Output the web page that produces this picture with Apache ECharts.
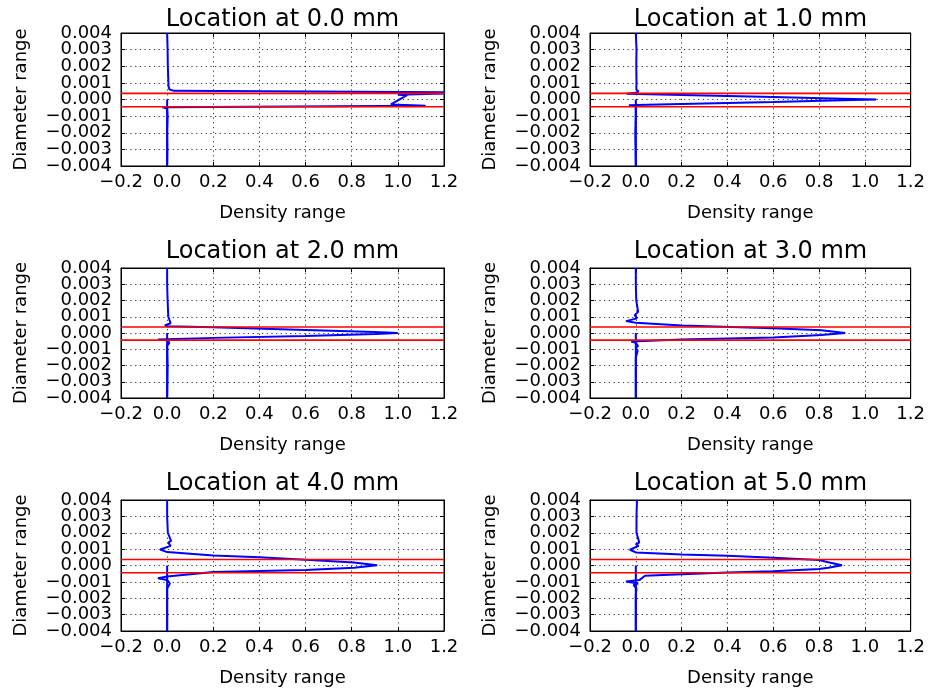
<!DOCTYPE html>
<html><head><meta charset="utf-8">
<script src="https://cdn.jsdelivr.net/npm/echarts@6/dist/echarts.min.js"></script>
<style>html,body{margin:0;padding:0;background:#fff}#c{width:928px;height:695px}</style>
</head><body><div id="c"></div><script>
// ---- data ----
const panelTitles = ['Location at 0.0 mm','Location at 1.0 mm','Location at 2.0 mm','Location at 3.0 mm','Location at 4.0 mm','Location at 5.0 mm'];
const xTickRange = [-0.2, 1.2], xTickStep = 0.2;
const yTickRange = [-0.004, 0.004], yTickStep = 0.001;
const yLabelsEven = [-0.004, -0.002, 0.0, 0.002, 0.004];
const yLabelsOdd = [-0.003, -0.001, 0.001, 0.003];
const xAxisName = 'Density range';
const yAxisName = 'Diameter range';
const boundaryUpper = 0.00037;
const boundaryLower = -0.00044;

const dens0 = [0.0, 0.002, 0.003, 0.005, 0.006, 0.01, 0.03, 1.40, 1.00, 1.04, 0.97, 1.12, -0.02, 0.0, 0.002, 0.0, 0.001, 0.0];
const diam0 = [0.004, 0.003, 0.002, 0.0012, 0.0008, 0.0006, 0.00052, 0.00042, 0.00029, 0.00026, -0.00030, -0.00038, -0.00047, -0.00055, -0.001, -0.002, -0.003, -0.004];

const dens1 = [0.0, 0.003, 0.002, 0.003, 0.002, 0.012, 0.0, -0.04, 0.3, 0.6, 0.9, 1.05, 0.9, 0.6, 0.3, 0.05, -0.03, 0.0, 0.0, -0.002, 0.0];
const diam1 = [0.004, 0.003, 0.002, 0.001, 0.0006, 0.00048, 0.0004, 0.00035, 0.00024, 0.000145, 0.000048, 0.0, -0.000049, -0.000146, -0.00024, -0.00032, -0.00035, -0.0004, -0.001, -0.002, -0.004];

const dens2 = [0.0, 0.0, 0.002, 0.005, 0.015, -0.01, 0.0, 0.2, 0.6, 0.9, 1.0, 0.9, 0.6, 0.2, -0.04, 0.0, 0.01, 0.0, 0.002, 0.0];
const diam2 = [0.004, 0.003, 0.002, 0.001, 0.0006, 0.00047, 0.00042, 0.00035, 0.00018, 0.00006, 0.0, -0.00006, -0.00018, -0.0003, -0.0004, -0.00045, -0.0006, -0.0008, -0.002, -0.004];

const dens3 = [0.0, 0.0, 0.002, 0.01, -0.005, 0.005, -0.043, 0.0, 0.2, 0.6, 0.81, 0.914, 0.81, 0.6, 0.2, -0.02, 0.0, 0.01, 0.0, 0.008, 0.0, 0.0];
const diam3 = [0.004, 0.003, 0.002, 0.0013, 0.0011, 0.0009, 0.00073, 0.00063, 0.00046, 0.00029, 0.00017, 0.0, -0.00013, -0.00027, -0.0004, -0.00052, -0.0006, -0.0008, -0.0009, -0.0011, -0.0015, -0.004];

const dens4 = [0.0, 0.0, 0.003, 0.017, 0.005, 0.015, -0.03, 0.0, 0.2, 0.4, 0.6, 0.81, 0.91, 0.81, 0.6, 0.4, 0.2, 0.0, -0.04, 0.0, 0.012, 0.0, 0.0];
const diam4 = [0.004, 0.003, 0.002, 0.0015, 0.0014, 0.0012, 0.00098, 0.00082, 0.00061, 0.00051, 0.00035, 0.00018, 0.00002, -0.00014, -0.00027, -0.00033, -0.0004, -0.00067, -0.00078, -0.00088, -0.0011, -0.0014, -0.004];

const dens5 = [0.005, 0.003, 0.003, 0.015, 0.0, 0.012, -0.026, 0.0, 0.2, 0.4, 0.6, 0.8, 0.84, 0.9, 0.84, 0.8, 0.6, 0.4, 0.2, 0.04, 0.017, -0.043, 0.01, -0.01, 0.003, 0.0, 0.0];
const diam5 = [0.004, 0.003, 0.002, 0.0014, 0.0013, 0.0012, 0.00096, 0.0008, 0.00067, 0.00059, 0.00047, 0.00033, 0.0002, 0.00002, -0.00014, -0.00022, -0.00035, -0.00043, -0.00053, -0.00063, -0.00088, -0.00098, -0.0011, -0.0012, -0.0014, -0.0018, -0.004];

const stubDens = [0.0, 0.0];
const stubDiam = [0.0, -0.004];

const densAll = [dens0, dens1, dens2, dens3, dens4, dens5];
const diamAll = [diam0, diam1, diam2, diam3, diam4, diam5];

// ---- layout ----
const gridLefts = [121, 590], gridWidths = [323, 321];
const gridTops = [33, 268, 500], gridHeights = [133, 130, 131];
const titleY = [20, 252, 484];
const FONT = 'DejaVu Sans';

function fmtX(v){ const s = Math.abs(v).toFixed(1); return (v < -1e-9 ? '\u2212' : '') + s; }
function fmtY(v){ const s = Math.abs(v).toFixed(3); return (v < -1e-9 ? '\u2212' : '') + s; }

const grids = [], xAxes = [], yAxes = [], series = [], graphics = [];
const axLine = { show: true, onZero: false, lineStyle: { color: '#000', width: 1 } };
const axTick = { show: true, inside: true, length: 4, lineStyle: { color: '#000' } };
const gridLine = { show: true, lineStyle: { color: '#000', type: [1.2, 3.5], width: 0.8 } };
for (let i = 0; i < 6; i++) {
  const col = i % 2, row = Math.floor(i / 2);
  grids.push({ left: gridLefts[col], top: gridTops[row], width: gridWidths[col], height: gridHeights[row],
    show: true, borderColor: '#000', borderWidth: 1, backgroundColor: '#fff', containLabel: false });
  const xRange = { gridIndex: i, type: 'value', min: xTickRange[0], max: xTickRange[1], interval: xTickStep };
  const yRange = { gridIndex: i, type: 'value', min: yTickRange[0], max: yTickRange[1], interval: yTickStep };
  const xi = xAxes.length;
  xAxes.push(Object.assign({}, xRange, {
    position: 'bottom', name: xAxisName, nameLocation: 'middle', nameGap: 38,
    nameTextStyle: { fontFamily: FONT, fontSize: 18, color: '#000' },
    axisLine: axLine, axisTick: axTick,
    axisLabel: { formatter: fmtX, fontFamily: FONT, fontSize: 18, color: '#000', margin: 7, hideOverlap: false, showMinLabel: true, showMaxLabel: true },
    splitLine: gridLine
  }));
  xAxes.push(Object.assign({}, xRange, {
    position: 'top', axisLine: axLine, axisTick: axTick, axisLabel: { show: false }, splitLine: { show: false }
  }));
  const yi = yAxes.length;
  yAxes.push(Object.assign({}, yRange, {
    position: 'left', name: yAxisName, nameLocation: 'middle', nameGap: 91, nameRotate: 90,
    nameTextStyle: { fontFamily: FONT, fontSize: 18, color: '#000' },
    axisLine: axLine, axisTick: axTick,
    axisLabel: { formatter: fmtY, customValues: yLabelsEven, fontFamily: FONT, fontSize: 18, color: '#000', margin: 9, hideOverlap: false },
    splitLine: gridLine
  }));
  yAxes.push(Object.assign({}, yRange, {
    position: 'left', axisLine: { show: false }, axisTick: { show: false }, splitLine: { show: false },
    axisLabel: { formatter: fmtY, customValues: yLabelsOdd, fontFamily: FONT, fontSize: 18, color: '#000', margin: 9, hideOverlap: false }
  }));
  yAxes.push(Object.assign({}, yRange, {
    position: 'right', axisLine: axLine, axisTick: axTick, axisLabel: { show: false }, splitLine: { show: false }
  }));
  const pts = densAll[i].map((d, k) => [d, diamAll[i][k]]);
  series.push({ type: 'line', xAxisIndex: xi, yAxisIndex: yi, data: pts, symbol: 'none', clip: true,
    lineStyle: { color: '#0000ff', width: 2 }, animation: false, z: 3 });
  series.push({ type: 'line', xAxisIndex: xi, yAxisIndex: yi, data: stubDens.map((d, k) => [d, stubDiam[k]]),
    symbol: 'none', clip: true, lineStyle: { color: '#0000ff', width: 2 }, animation: false, z: 3 });
  [boundaryUpper, boundaryLower].forEach(b => {
    series.push({ type: 'line', xAxisIndex: xi, yAxisIndex: yi, data: [[xTickRange[0], b], [xTickRange[1], b]],
      symbol: 'none', clip: true, lineStyle: { color: '#ff0000', width: 1.6 }, animation: false, z: 4 });
  });
  graphics.push({ type: 'text', x: gridLefts[col] + gridWidths[col] / 2, y: titleY[row],
    style: { text: panelTitles[i], fontFamily: FONT, fontSize: 24, fill: '#000', align: 'center', verticalAlign: 'middle' } });
}

const chart = echarts.init(document.getElementById('c'), null, { renderer: 'canvas' });
chart.setOption({ backgroundColor: '#fff', animation: false, grid: grids, xAxis: xAxes, yAxis: yAxes, series: series, graphic: graphics });
</script></body></html>
